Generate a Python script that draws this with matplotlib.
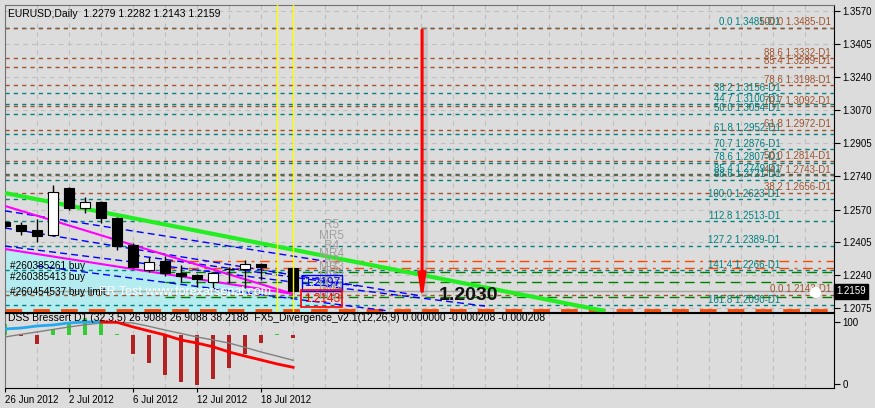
import numpy as np
import matplotlib
matplotlib.use("Agg")
import matplotlib.pyplot as plt

plt.rcParams['font.family'] = ['Liberation Sans', 'DejaVu Sans']

# ---- candles (bar index 0 = 26 Jun 2012), 19 Jul not drawn ----
opens = [1.2508, 1.2493, 1.2468, 1.2443, 1.2678, 1.2579, 1.2609, 1.2528, 1.2392, 1.2267,
         1.2312, 1.2252, 1.2242, 1.2206, 1.2272, 1.2272, 1.2297, np.nan, 1.2279]
highs = [1.2515, 1.2508, 1.2523, 1.2694, 1.2682, 1.2634, 1.2612, 1.2533, 1.2402, 1.2332,
         1.2337, 1.2292, 1.2247, 1.2257, 1.2282, 1.2317, 1.2302, np.nan, 1.2282]
lows = [1.2480, 1.2443, 1.2408, 1.2440, 1.2568, 1.2553, 1.2503, 1.2367, 1.2277, 1.2257,
        1.2237, 1.2206, 1.2181, 1.2176, 1.2201, 1.2176, 1.2216, np.nan, 1.2143]
closes = [1.2488, 1.2463, 1.2438, 1.2658, 1.2577, 1.2609, 1.2528, 1.2387, 1.2282, 1.2307,
          1.2252, 1.2237, 1.2221, 1.2252, 1.2270, 1.2297, 1.2282, np.nan, 1.2159]

date_ticks = [0, 4, 8, 12, 16]
date_labels = ['26 Jun 2012', '2 Jul 2012', '6 Jul 2012', '12 Jul 2012', '18 Jul 2012']
price_ticks = [1.3570, 1.3405, 1.3240, 1.3070, 1.2905, 1.2740, 1.2570, 1.2405, 1.2240, 1.2075]

# ---- fibonacci sets ----
fib_a_pct = ['0.0', '38.2', '44.7', '50.0', '61.8', '70.7', '78.6', '85.4', '88.6',
             '100.0', '112.8', '127.2', '141.4', '161.8']
fib_a_price = [1.3485, 1.3156, 1.3100, 1.3054, 1.2952, 1.2876, 1.2807, 1.2749, 1.2721,
               1.2623, 1.2513, 1.2389, 1.2266, 1.2090]
fib_b_pct = ['100.0', '88.6', '85.4', '78.6', '70.7', '61.8', '50.0', '44.7', '38.2', '0.0']
fib_b_price = [1.3485, 1.3332, 1.3289, 1.3198, 1.3092, 1.2972, 1.2814, 1.2743, 1.2656, 1.2143]

# ---- pivot levels ----
pivot_red = [1.2312, 1.2278]
pivot_green = [1.2257, 1.2206, 1.2131]
floor_line = 1.2065
pivot_names = ['R5', 'MR5', 'R4', 'MR4', 'R3', 'MR3', 'R2', 'MR2', 'R1', 'MR1', 'PP', 'MS1']
pivot_prices = [1.2493, 1.2438, 1.2387, 1.2347, 1.2312, 1.2282, 1.2257, 1.2231, 1.2206,
                1.2181, 1.2161, 1.2136]

# ---- order labels ----
order_texts = ['#260385261 buy', '#260385413 buy', '#260454537 buy limit']
order_prices = [1.2287, 1.2231, 1.2158]

# ---- trend / channel lines (bar, price) ----
green_trend = ([0, 37.5], [1.2654, 1.2060])
magenta_a = ([0, 18], [1.2589, 1.2146])
magenta_b = ([0, 18], [1.2372, 1.2146])
blue_lines = [([0, 20], [1.2564, 1.2311]),
              ([0, 26], [1.2478, 1.2136]),
              ([0, 30], [1.2387, 1.2085]),
              ([2, 24], [1.2287, 1.2060]),
              ([8, 22], [1.2342, 1.2186])]

arrow_bar, arrow_top, arrow_tip = 26.06, 1.3474, 1.2110
target_text = '1.2030'
bid = 1.2159

# ---- sub window: DSS Bressert + FX5 divergence histogram ----
dss = [88.7, 90.3, 93.5, 95.2, 98.4, 100.0, 100.0, 99.5, 92.0, 85.5, 79.0, 71.0, 66.0,
       60.0, 51.6, 45.0, 38.7, 32.3, 26.9]
dss_signal = [75.8, 80.0, 83.9, 88.0, 92.0, 95.5, 98.4, 99.0, 98.4, 93.0, 87.0, 81.5, 75.8,
              71.0, 66.0, 59.0, 51.6, 45.0, 38.2]
divergence = [11, -1, -9, 6, 11, 17, 15, 1, -19, -28, -40, -47, -50, -44, -33, -19, -8, 1, -3]

BG = '#DCDCDC'
GRID = '#BEBEBE'
TEAL = '#008080'
BROWN = '#A0522D'
XMAX = 51.8

fig = plt.figure(figsize=(8.75, 4.08), dpi=100, facecolor=BG)
ax = fig.add_axes([5 / 875, 1 - 312 / 408, 829 / 875, 307 / 408], facecolor=BG)
sub = fig.add_axes([5 / 875, 1 - 388 / 408, 829 / 875, 75 / 408], facecolor=BG)

bars = np.arange(len(opens))
o, h, l, c = map(np.array, (opens, highs, lows, closes))

# grid (main)
for k in range(2, 52, 2):
    ax.axvline(k, color=GRID, ls=(0, (4, 4)), lw=0.8, zorder=0)
for p in price_ticks:
    ax.axhline(p, color=GRID, ls=(0, (4, 4)), lw=0.8, zorder=0)

# cyan zone under the lower magenta line
zx = np.array([0, 18, 19.6])
zy = np.interp(zx, magenta_b[0], magenta_b[1], right=1.2090)
ax.fill_between(zx, zy, 1.2040, color='#B4ECF0', lw=0, zorder=1)

# fibonacci lines + labels
for pct, p in zip(fib_a_pct, fib_a_price):
    ax.axhline(p, color=TEAL, ls=(0, (3, 3)), lw=1, zorder=2)
    ax.text(48.45, p + 0.0002, f'{pct} {p:.4f}-D1', color=TEAL, fontsize=7,
            ha='right', va='bottom', zorder=6)
for pct, p in zip(fib_b_pct, fib_b_price):
    ax.axhline(p, color=BROWN, ls=(0, (3, 3)), lw=1, zorder=2)
    ax.text(51.6, p + 0.0002, f'{pct} {p:.4f}-D1', color=BROWN, fontsize=7,
            ha='right', va='bottom', zorder=6)

# pivots
for p in pivot_red:
    ax.hlines(p, 10, XMAX, color='#FF4500', ls=(0, (7, 4, 2, 4)), lw=1, zorder=2)
for p in pivot_green:
    ax.hlines(p, 10, XMAX, color='#008000', ls=(0, (7, 4)), lw=1, zorder=2)
ax.axhline(floor_line, color='#FF4500', ls=(0, (6, 4)), lw=2, zorder=2)
ax.axhline(bid, color='#A8A8A8', lw=1, zorder=2)
for name, p in zip(pivot_names, pivot_prices):
    ax.text(20.4, p, name, color='#A0A0A0', fontsize=8.5, ha='center', va='center', zorder=7)

# channel lines
for xs, ys in blue_lines:
    ax.plot(xs, ys, color='#0000FF', ls=(0, (5, 3)), lw=1, zorder=3)
ax.plot(*magenta_a, color='#FF00FF', lw=1.5, zorder=4)
ax.plot(*magenta_b, color='#FF00FF', lw=1.5, zorder=4)
ax.plot(*green_trend, color='#22EE22', lw=3, zorder=5, solid_capstyle='butt')

# candles
ax.vlines(bars, l, h, color='black', lw=1, zorder=8)
body_lo = np.minimum(o, c)
body_h = np.maximum(np.abs(c - o), 0.00005)
ax.bar(bars, body_h, bottom=body_lo, width=0.62,
       color=np.where(c >= o, 'white', 'black'), edgecolor='black', lw=0.8, zorder=9)

# yellow time markers
for k in (17, 18):
    ax.axvline(k, color='#FFFF00', lw=1, zorder=10)

# order labels
for txt, p in zip(order_texts, order_prices):
    ax.text(0.3, p, txt, fontsize=7.2, color='black', va='center', zorder=11)
ax.text(5.9, 1.2156, 'FR Test www.forexarsenal.com', fontsize=9, color='white',
        va='center', zorder=12)
ax.text(19.8, 1.2201, '1.2197', fontsize=8.5, color='#0000FF', ha='center', va='center',
        zorder=12, bbox=dict(boxstyle='square,pad=0.15', fc='none', ec='#0000FF', lw=1))
ax.text(19.8, 1.2123, '1.2143', fontsize=8.5, color='#FF0000', ha='center', va='center',
        zorder=12, bbox=dict(boxstyle='square,pad=0.2', fc='none', ec='#FF0000', lw=1.2))

# arrow and target
ax.plot([arrow_bar + 0.1, arrow_bar + 0.1], [arrow_top, arrow_tip + 0.004], color='#A0A0A0',
        lw=5, alpha=0.35, zorder=12)
ax.annotate('', xy=(arrow_bar, arrow_tip), xytext=(arrow_bar, arrow_top),
            arrowprops=dict(arrowstyle='-|>,head_length=1.4,head_width=0.22', color='#FF0000',
                            lw=2.2, shrinkA=0, shrinkB=0), zorder=13)
ax.text(27.1, 1.2136, target_text, fontsize=14, fontweight='bold', color='#111111',
        ha='left', va='center', zorder=13)
ax.plot(50.6, 1.2155, 'o', color='white', ms=7, zorder=13)

ax.text(0.2, 1.3555, 'EURUSD,Daily  1.2279 1.2282 1.2143 1.2159', fontsize=7.5,
        ha='left', va='center', zorder=14)

ax.set_xlim(0, XMAX)
ax.set_ylim(1.20552, 1.36002)
ax.yaxis.tick_right()
ax.set_yticks(price_ticks, [f'{p:.4f}' for p in price_ticks])
ax.tick_params(axis='y', labelsize=7, length=4, pad=2, colors='black')
ax.set_xticks([])
ax.text(XMAX + 0.15, bid, f'{bid:.4f}', fontsize=7, color='white', ha='left', va='center',
        bbox=dict(boxstyle='square,pad=0.25', fc='black', ec='black'), clip_on=False, zorder=15)

for name, sp in ax.spines.items():
    sp.set_color('black' if name in ('right', 'bottom') else '#707070')

# ---- sub window ----
hist = sub.twinx()
for k in range(2, 52, 2):
    hist.axvline(k, color=GRID, ls=(0, (4, 4)), lw=0.8, zorder=0)
hist.bar(bars, divergence, width=0.28,
         color=['#32CD32' if v > 0 else '#B22222' for v in divergence], zorder=2)
hist.set_ylim(-53, 22)
hist.set_yticks([])
hist.set_facecolor(BG)
for sp in hist.spines.values():
    sp.set_visible(False)
hist.set_zorder(0)
sub.set_zorder(1)
sub.patch.set_visible(False)

sub.plot(bars[:7], dss[:7], color='#22AAEE', lw=2, zorder=4)
sub.plot(bars[6:], dss[6:], color='#FF0000', lw=2, zorder=4)
sub.plot(bars, dss_signal, color='#808080', lw=1, zorder=3)
sub.set_ylim(-6.5, 114.5)
sub.set_xlim(0, XMAX)
hist.set_xlim(0, XMAX)
sub.yaxis.tick_right()
sub.set_yticks([0, 100], ['0', '100'])
sub.tick_params(axis='y', labelsize=7, length=4, pad=2)

sub.set_xticks(date_ticks, date_labels)
sub.tick_params(axis='x', labelsize=7, length=3, pad=2)
for lbl in sub.get_xticklabels():
    lbl.set_ha('left')
for name, sp in sub.spines.items():
    sp.set_color('black' if name in ('right', 'bottom', 'top') else '#707070')

sub.text(0.2, 106, 'DSS Bressert D1 (32,3,5) 26.9088 26.9088 38.2188  '
         'FX5_Divergence_v2.1(12,26,9) 0.000000 -0.000208 -0.000208',
         fontsize=7.5, ha='left', va='center', zorder=10)

fig.savefig('out.png', dpi=100, facecolor=BG)
